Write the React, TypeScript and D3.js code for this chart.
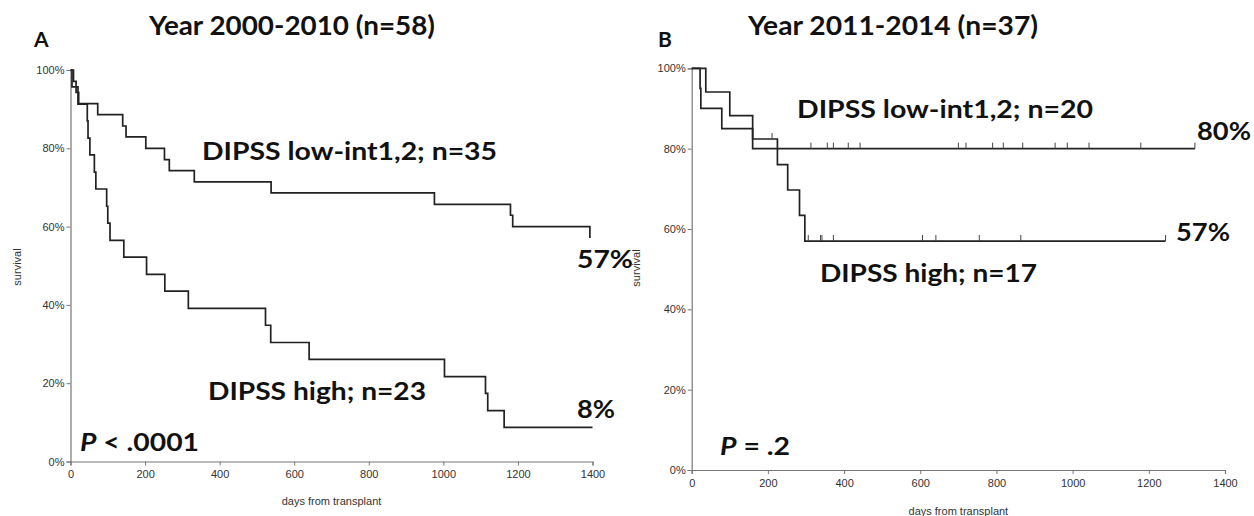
import React, { useRef, useEffect } from 'react';
import * as d3 from 'd3';

// Panel A: 2000-2010
const aLowDays = [0, 8, 15, 22, 73, 140, 149, 202, 252, 265, 332, 538, 976, 1180, 1186, 1393];
const aLowSurv = [1, 0.971, 0.943, 0.914, 0.886, 0.857, 0.829, 0.8, 0.771, 0.743, 0.714, 0.686, 0.657, 0.629, 0.6, 0.571];
const aHighDays = [0, 4, 20, 45, 47, 52, 64, 68, 97, 100, 106, 143, 204, 253, 316, 523, 537, 640, 1003, 1113, 1119, 1163, 1400];
const aHighSurv = [1, 0.957, 0.913, 0.87, 0.826, 0.783, 0.739, 0.696, 0.652, 0.609, 0.565, 0.522, 0.478, 0.435, 0.391, 0.348, 0.304, 0.261, 0.217, 0.174, 0.13, 0.087, 0.087];

// Panel B: 2011-2014
const bLowDays = [0, 22, 24, 79, 160, 1321];
const bLowSurv = [1, 0.95, 0.9, 0.85, 0.8, 0.8];
const bLowCensor = [313, 356, 372, 411, 442, 700, 720, 790, 818, 869, 954, 986, 1043, 1179, 1321];
const bHighDays = [0, 37, 100, 160, 225, 252, 283, 297, 1244];
const bHighSurv = [1, 0.941, 0.882, 0.824, 0.76, 0.697, 0.634, 0.57, 0.57];
const bHighCensor = [211, 306, 338, 342, 372, 606, 641, 755, 864, 1244];

const xTicks = [0, 200, 400, 600, 800, 1000, 1200, 1400];
const yTicks = [0, 0.2, 0.4, 0.6, 0.8, 1];

const BOLD = 'Lato, "Open Sans", sans-serif';
const AXF = '"Liberation Sans", Arial, sans-serif';

const panels = [
  {
    letter: 'A', title: 'Year 2000-2010 (n=58)',
    x0: 70.5, x1: 592.5, yTop: 70, yBot: 461.5,
    titleX: 149, titleW: 286, letterX: 34,
    curves: [
      { days: aLowDays, surv: aLowSurv, censor: [] as number[] },
      { days: aHighDays, surv: aHighSurv, censor: [] as number[] }
    ],
    notes: [
      { t: 'DIPSS low-int1,2; n=35', x: 202, y: 160, w: 295 },
      { t: '57%', x: 577, y: 268, w: 56 },
      { t: 'DIPSS high; n=23', x: 208, y: 400, w: 218 },
      { t: '8%', x: 577, y: 418, w: 38 }
    ],
    p: { rest: ' < .0001', x: 80, y: 451, w: 119 },
    survX: 17, survY: 267, daysY: 505
  },
  {
    letter: 'B', title: 'Year 2011-2014 (n=37)',
    x0: 691.7, x1: 1225, yTop: 68.3, yBot: 470,
    titleX: 748, titleW: 290, letterX: 658,
    curves: [
      { days: bLowDays, surv: bLowSurv, censor: bLowCensor },
      { days: bHighDays, surv: bHighSurv, censor: bHighCensor }
    ],
    notes: [
      { t: 'DIPSS low-int1,2; n=20', x: 797, y: 118, w: 296 },
      { t: '80%', x: 1197, y: 140, w: 54 },
      { t: '57%', x: 1176, y: 241, w: 54 },
      { t: 'DIPSS high; n=17', x: 820, y: 282, w: 217 }
    ],
    p: { rest: ' = .2', x: 720, y: 455, w: 70 },
    survX: 636, survY: 268, daysY: 515
  }
];

const App = () => {
  const ref = useRef<SVGSVGElement>(null);

  useEffect(() => {
    const svg = d3.select(ref.current);
    svg.selectAll('*').remove();

    panels.forEach(pn => {
      const x = d3.scaleLinear().domain([0, 1400]).range([pn.x0, pn.x1]);
      const y = d3.scaleLinear().domain([0, 1]).range([pn.yBot, pn.yTop]);
      const g = svg.append('g');

      const xAxis = g.append('g')
        .attr('transform', `translate(0,${pn.yBot})`)
        .call(d3.axisBottom(x).tickValues(xTicks).tickSize(4).tickPadding(5).tickFormat(d3.format('d')));
      const yAxis = g.append('g')
        .attr('transform', `translate(${pn.x0},0)`)
        .call(d3.axisLeft(y).tickValues(yTicks).tickSize(4).tickPadding(2).tickFormat(d3.format('.0%')));
      [xAxis, yAxis].forEach(a => {
        a.selectAll('path').attr('stroke', '#777').attr('stroke-width', 1.2);
        a.selectAll('line').attr('stroke', '#777');
        a.selectAll('text').attr('fill', '#333').style('font-family', AXF).style('font-size', '11px');
      });

      // step curves and censor marks
      pn.curves.forEach(c => {
        const pts = c.days.map((d, i) => [x(d), y(c.surv[i])] as [number, number]);
        g.append('path')
          .attr('d', d3.line().curve(d3.curveStepAfter)(pts))
          .attr('fill', 'none')
          .attr('stroke', '#222')
          .attr('stroke-width', 1.7);
        const survAt = (t: number) => {
          let s = c.surv[0];
          c.days.forEach((d, i) => { if (d <= t) s = c.surv[i]; });
          return s;
        };
        g.selectAll(null)
          .data(c.censor)
          .enter().append('line')
          .attr('x1', d => x(d)).attr('x2', d => x(d))
          .attr('y1', d => y(survAt(d))).attr('y2', d => y(survAt(d)) - 6)
          .attr('stroke', '#444')
          .attr('stroke-width', 1);
      });

      g.append('text')
        .attr('x', pn.titleX).attr('y', 35)
        .attr('textLength', pn.titleW).attr('lengthAdjust', 'spacingAndGlyphs')
        .style('font-family', BOLD).style('font-weight', 700).style('font-size', '27px')
        .attr('fill', '#111')
        .text(pn.title);
      g.append('text')
        .attr('x', pn.letterX).attr('y', 47)
        .style('font-family', BOLD).style('font-weight', 700).style('font-size', '21px')
        .attr('fill', '#111')
        .text(pn.letter);

      pn.notes.forEach(n => {
        g.append('text')
          .attr('x', n.x).attr('y', n.y)
          .attr('textLength', n.w).attr('lengthAdjust', 'spacingAndGlyphs')
          .style('font-family', BOLD).style('font-weight', 700).style('font-size', '25px')
          .attr('fill', '#111')
          .text(n.t);
      });

      const pt = g.append('text')
        .attr('x', pn.p.x).attr('y', pn.p.y)
        .attr('textLength', pn.p.w).attr('lengthAdjust', 'spacingAndGlyphs')
        .style('font-family', BOLD).style('font-weight', 700).style('font-size', '25px')
        .attr('fill', '#111');
      pt.append('tspan').style('font-style', 'italic').text('P');
      pt.append('tspan').text(pn.p.rest);

      g.append('text')
        .attr('transform', `translate(${pn.survX + 4},${pn.survY}) rotate(-90)`)
        .attr('text-anchor', 'middle')
        .style('font-family', AXF).style('font-size', '11px')
        .attr('fill', '#333')
        .text('survival');
      g.append('text')
        .attr('x', (pn.x0 + pn.x1) / 2).attr('y', pn.daysY)
        .attr('text-anchor', 'middle')
        .style('font-family', AXF).style('font-size', '11px')
        .attr('fill', '#333')
        .text('days from transplant');
    });
  }, []);

  return (
    <svg ref={ref} width={1254} height={516}
      style={{ position: 'absolute', left: 0, top: 0, background: '#fff' }} />
  );
};

export default App;
